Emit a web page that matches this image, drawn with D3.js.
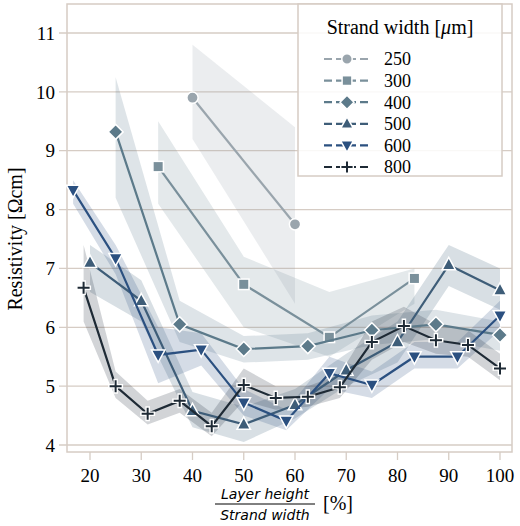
<!DOCTYPE html><html><head><meta charset="utf-8">
<script src="https://cdn.jsdelivr.net/npm/d3@7"></script>
<style>body{margin:0;background:#fff}text{font-family:"Liberation Serif","DejaVu Serif",serif}</style></head><body>
<svg id="c" width="520" height="526"></svg>
<script>
const widths=["250","300","400","500","600","800"];
const colors=["#9aa5ad","#7a909b","#5c7a8a","#3e5d78","#2b5080","#1e2a35"];
const shapes=["circle","square","diamond","up","down","plus"];
const xs250=[40,60], ys250=[9.9,7.75], lo250=[9.2,6.4], hi250=[10.8,9.4];
const xs300=[33.3,50,66.7,83.3], ys300=[8.73,6.73,5.83,6.83], lo300=[8.1,6.0,5.5,6.4], hi300=[9.5,7.2,6.6,7.0];
const xs400=[25,37.5,50,62.5,75,87.5,100], ys400=[9.32,6.05,5.63,5.68,5.95,6.05,5.87], lo400=[8.2,5.75,5.4,5.45,5.7,5.8,5.6], hi400=[10.25,6.45,5.85,5.9,6.2,6.3,6.1];
const xs500=[20,30,40,50,60,70,80,90,100], ys500=[7.1,6.45,4.58,4.35,4.68,5.27,5.75,7.06,6.63], lo500=[6.6,6.1,4.3,4.05,4.45,5.0,5.4,6.7,6.3], hi500=[7.4,6.8,4.9,4.65,4.95,5.55,6.1,7.4,7.0];
const xs600=[16.7,25,33.3,41.7,50,58.3,66.7,75,83.3,91.7,100], ys600=[8.33,7.17,5.53,5.62,4.72,4.41,5.22,5.02,5.5,5.5,6.2], lo600=[8.1,6.9,5.05,5.35,4.5,4.25,4.95,4.8,5.3,5.3,5.95], hi600=[8.5,7.4,6.0,5.9,4.95,4.6,5.5,5.25,5.75,5.75,6.45];
const xs800=[18.75,25,31.25,37.5,43.75,50,56.25,62.5,68.75,75,81.25,87.5,93.75,100], ys800=[6.67,5.0,4.53,4.75,4.32,5.02,4.8,4.82,4.98,5.75,6.02,5.78,5.7,5.3], lo800=[6.1,4.8,4.35,4.55,4.15,4.75,4.6,4.65,4.8,5.45,5.75,5.55,5.5,5.1], hi800=[7.4,5.25,4.75,4.95,4.55,5.3,5.0,5.0,5.2,6.1,6.35,6.05,5.95,5.55];
const xTicks=[20,30,40,50,60,70,80,90,100], yTicks=[4,5,6,7,8,9,10,11];
const series=[[xs250,ys250,lo250,hi250],[xs300,ys300,lo300,hi300],[xs400,ys400,lo400,hi400],[xs500,ys500,lo500,hi500],[xs600,ys600,lo600,hi600],[xs800,ys800,lo800,hi800]];
const svg=d3.select("#c");
const L=67,R=512,T=4,B=452;
const x=d3.scaleLinear().domain([20,100]).range([90,500]);
const y=d3.scaleLinear().domain([4,11]).range([445,33]);
const gc="#d6ccc4";
svg.append("rect").attr("x",L).attr("y",T).attr("width",R-L).attr("height",B-T).attr("fill","none").attr("stroke",gc).attr("stroke-width",1.5);
yTicks.forEach(t=>{svg.append("line").attr("x1",L-8).attr("x2",R).attr("y1",y(t)).attr("y2",y(t)).attr("stroke",gc).attr("stroke-width",1.3);
 svg.append("text").attr("x",L-12).attr("y",y(t)).attr("dy","0.35em").attr("text-anchor","end").attr("font-size",19).text(t);});
xTicks.forEach(t=>{svg.append("line").attr("x1",x(t)).attr("x2",x(t)).attr("y1",B).attr("y2",B+8).attr("stroke",gc).attr("stroke-width",1.3);
 svg.append("text").attr("x",x(t)).attr("y",B+30).attr("text-anchor","middle").attr("font-size",19).text(t);});
series.forEach(([xs,ys,lo,hi],i)=>{
 const d=xs.map((v,j)=>({x:v,y:ys[j],lo:lo[j],hi:hi[j]}));
 svg.append("path").attr("d",d3.area().x(p=>x(p.x)).y0(p=>y(p.lo)).y1(p=>y(p.hi))(d)).attr("fill",colors[i]).attr("opacity",0.2);
});
function marker(g,s,c,sz){
 if(s==="circle")g.append("circle").attr("r",sz*0.75).attr("fill",c).attr("stroke","#fff").attr("stroke-width",1.5);
 else if(s==="square")g.append("rect").attr("x",-sz*0.7).attr("y",-sz*0.7).attr("width",sz*1.4).attr("height",sz*1.4).attr("fill",c).attr("stroke","#fff").attr("stroke-width",1.5);
 else if(s==="diamond")g.append("path").attr("d",`M0,${-sz}L${sz},0L0,${sz}L${-sz},0Z`).attr("fill",c).attr("stroke","#fff").attr("stroke-width",1.5);
 else if(s==="up")g.append("path").attr("d",`M0,${-sz}L${sz*0.9},${sz*0.65}L${-sz*0.9},${sz*0.65}Z`).attr("fill",c).attr("stroke","#fff").attr("stroke-width",1.5);
 else if(s==="down")g.append("path").attr("d",`M0,${sz}L${sz*0.9},${-sz*0.65}L${-sz*0.9},${-sz*0.65}Z`).attr("fill",c).attr("stroke","#fff").attr("stroke-width",1.5);
 else {g.append("path").attr("d",`M${-sz},0H${sz}M0,${-sz}V${sz}`).attr("stroke","#fff").attr("stroke-width",4.5);
  g.append("path").attr("d",`M${-sz*0.8},0H${sz*0.8}M0,${-sz*0.8}V${sz*0.8}`).attr("stroke",c).attr("stroke-width",2);}
}
series.forEach(([xs,ys],i)=>{
 const d=xs.map((v,j)=>[x(v),y(ys[j])]);
 svg.append("path").attr("d",d3.line()(d)).attr("fill","none").attr("stroke",colors[i]).attr("stroke-width",2.2);
 d.forEach(p=>marker(svg.append("g").attr("transform",`translate(${p[0]},${p[1]})`),shapes[i],colors[i],7.5));
});
// legend
svg.append("rect").attr("x",298).attr("y",4).attr("width",204).attr("height",172).attr("fill","#fff").attr("fill-opacity",0.85).attr("stroke",gc).attr("stroke-width",1.5);
const lt=svg.append("text").attr("x",400).attr("y",34).attr("text-anchor","middle").attr("font-size",20);
lt.append("tspan").text("Strand width [");lt.append("tspan").attr("font-style","italic").text("μ");lt.append("tspan").text("m]");
widths.forEach((w,i)=>{const yy=59+i*21.6;
 svg.append("line").attr("x1",324).attr("x2",370).attr("y1",yy).attr("y2",yy).attr("stroke",colors[i]).attr("stroke-width",2.2).attr("stroke-dasharray","8,4");
 marker(svg.append("g").attr("transform",`translate(347,${yy})`),shapes[i],colors[i],7);
 svg.append("text").attr("x",384).attr("y",yy).attr("dy","0.35em").attr("font-size",18).text(w);});
// axis labels
svg.append("text").attr("transform",`translate(22,${y(7.5)}) rotate(-90)`).attr("text-anchor","middle").attr("font-size",20).text("Resistivity [Ωcm]");
svg.append("text").attr("x",265).attr("y",499).attr("text-anchor","middle").attr("font-size",14).attr("font-style","italic").style("font-family","'DejaVu Sans',sans-serif").text("Layer height");
svg.append("line").attr("x1",215).attr("x2",315).attr("y1",504).attr("y2",504).attr("stroke","#000").attr("stroke-width",1);
svg.append("text").attr("x",265).attr("y",520).attr("text-anchor","middle").attr("font-size",14).attr("font-style","italic").style("font-family","'DejaVu Sans',sans-serif").text("Strand width");
svg.append("text").attr("x",323).attr("y",510).attr("font-size",20).text("[%]");
</script></body></html>
